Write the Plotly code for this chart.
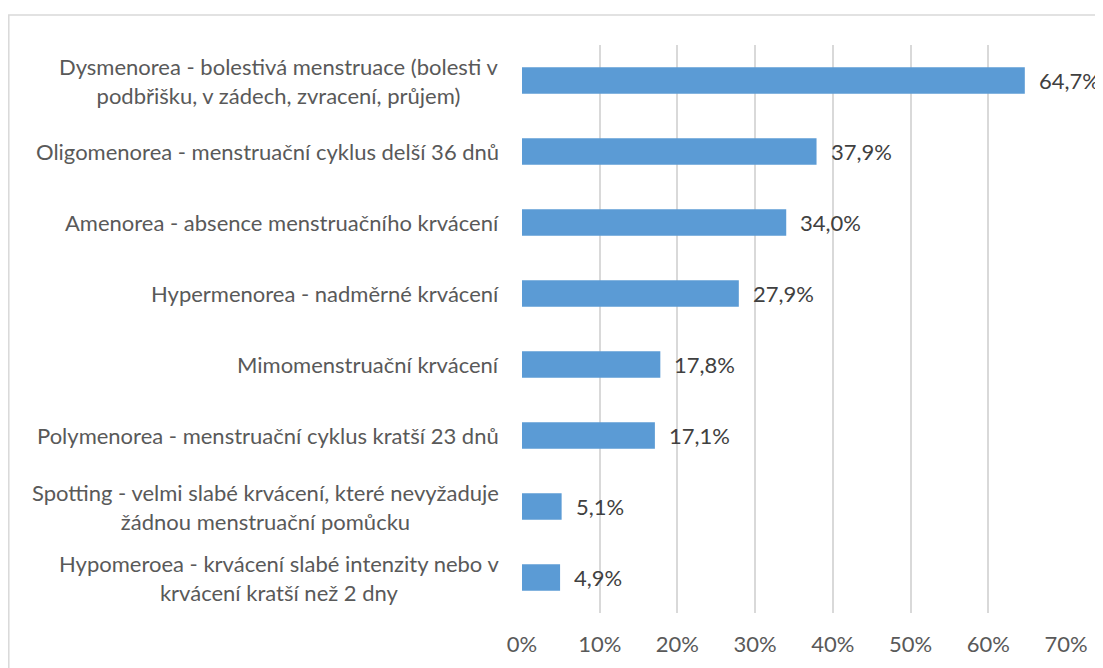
import plotly.graph_objects as go

categories = [
    "Dysmenorea - bolestivá menstruace (bolesti v<br>podbřišku, v zádech, zvracení, průjem)",
    "Oligomenorea - menstruační cyklus delší 36 dnů",
    "Amenorea - absence menstruačního krvácení",
    "Hypermenorea - nadměrné krvácení",
    "Mimomenstruační krvácení",
    "Polymenorea - menstruační cyklus kratší 23 dnů",
    "Spotting - velmi slabé krvácení, které nevyžaduje<br>žádnou menstruační pomůcku",
    "Hypomeroea - krvácení slabé intenzity nebo v<br>krvácení kratší než 2 dny",
]
values = [64.7, 37.9, 34.0, 27.9, 17.8, 17.1, 5.1, 4.9]
tick_vals = [0, 10, 20, 30, 40, 50, 60, 70]
tick_text = ["0%", "10%", "20%", "30%", "40%", "50%", "60%", "70%"]

FONT = "Lato"
FS = 22
LABEL_COLOR = "#595959"
VALUE_COLOR = "#404040"
BAR_COLOR = "#5B9BD5"
GRID = "#D9D9D9"

# page body has an 8px default margin
OFF = 8
W, H = 1103 - OFF, 668 - OFF
ML, MR, MT, MB = 522 - OFF, 37, 45 - OFF, 55
PW = W - ML - MR
PH = H - MT - MB

fig = go.Figure()
fig.add_trace(go.Bar(
    x=values, y=list(range(len(categories))), orientation="h",
    marker=dict(color=BAR_COLOR, line=dict(width=0)),
    width=0.37, hoverinfo="skip", showlegend=False,
))

annotations = []
for i, (c, v) in enumerate(zip(categories, values)):
    annotations.append(dict(
        x=0, xref="paper", y=i, yref="y", text=c, showarrow=False,
        xanchor="right", yanchor="middle", align="center", xshift=-21,
        font=dict(family=FONT, size=FS, color=LABEL_COLOR),
    ))
    annotations.append(dict(
        x=v, xref="x", y=i, yref="y",
        text=f"{v:.1f}".replace(".", ",") + "%", showarrow=False,
        xanchor="left", yanchor="middle", xshift=12,
        font=dict(family=FONT, size=FS, color=VALUE_COLOR),
    ))

fig.update_layout(
    width=W, height=H,
    margin=dict(l=ML, r=MR, t=MT, b=MB, pad=0),
    paper_bgcolor="white", plot_bgcolor="white",
    font=dict(family=FONT, size=FS, color=LABEL_COLOR),
    xaxis=dict(
        range=[0, 70], tickvals=tick_vals, ticktext=tick_text,
        showgrid=True, gridcolor=GRID, gridwidth=1.5,
        zeroline=False, showline=False, ticks="",
        ticklabelstandoff=16,
        tickfont=dict(family=FONT, size=FS, color=LABEL_COLOR),
    ),
    yaxis=dict(
        range=[len(categories) - 0.5, -0.5],
        showticklabels=False, showgrid=False, zeroline=False, showline=False,
    ),
    annotations=annotations,
    shapes=[dict(
        type="rect", xref="paper", yref="paper",
        x0=(0.8 - ML) / PW, x1=(W + 20 - ML) / PW,
        y0=-(MB + 20) / PH, y1=1 + (MT - (15 - OFF)) / PH,
        line=dict(color=GRID, width=1.5), fillcolor="rgba(0,0,0,0)",
        layer="below",
    )],
)

fig.write_html("out.html")
